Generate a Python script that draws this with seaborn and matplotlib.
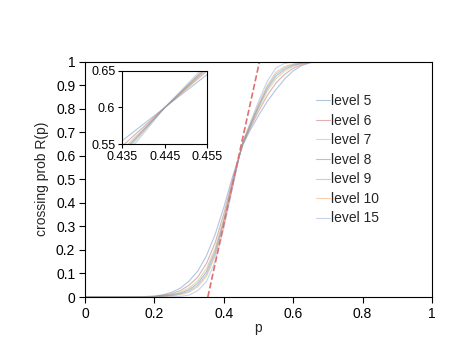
import numpy as np
import pandas as pd
import matplotlib
matplotlib.use('Agg')
import matplotlib.pyplot as plt
from matplotlib.lines import Line2D
import seaborn as sns

sns.set_style('white')
plt.rcParams['font.family'] = ['Liberation Sans', 'DejaVu Sans']

# ---- data ----
p = [0, 0.1, 0.15, 0.2, 0.225, 0.25, 0.275, 0.3, 0.325, 0.35, 0.375, 0.4, 0.425,
     0.445, 0.455, 0.475, 0.5, 0.525, 0.55, 0.575, 0.6, 0.625, 0.65, 0.7, 0.8, 1.0]

level5 = [0, 0, 0.0005, 0.004, 0.01, 0.02, 0.038, 0.068, 0.11, 0.175, 0.265, 0.38, 0.51,
          0.60, 0.645, 0.705, 0.77, 0.83, 0.88, 0.925, 0.96, 0.983, 0.995, 1, 1, 1]
level6 = [0, 0, 0.0004, 0.0028, 0.0071, 0.0143, 0.0275, 0.05, 0.085, 0.142, 0.23, 0.353, 0.495,
          0.60, 0.65, 0.714, 0.788, 0.855, 0.908, 0.945, 0.971, 0.988, 0.9965, 1, 1, 1]
level7 = [0, 0, 0.0003, 0.002, 0.005, 0.0105, 0.0205, 0.038, 0.0685, 0.12, 0.2075, 0.335, 0.485,
          0.60, 0.6525, 0.72, 0.80, 0.8725, 0.926, 0.9585, 0.979, 0.9915, 0.9975, 1, 1, 1]
level8 = [0, 0, 0.0002, 0.0015, 0.004, 0.0082, 0.0163, 0.0308, 0.0585, 0.107, 0.194, 0.324, 0.479,
          0.60, 0.654, 0.724, 0.807, 0.883, 0.937, 0.9665, 0.9836, 0.9935, 0.998, 1, 1, 1]
level9 = [0, 0, 0.00015, 0.0011, 0.003, 0.0063, 0.0128, 0.0248, 0.05, 0.0958, 0.182, 0.315, 0.474,
          0.60, 0.656, 0.727, 0.813, 0.891, 0.946, 0.973, 0.987, 0.995, 0.9986, 1, 1, 1]
level10 = [0, 0, 0.0001, 0.0008, 0.0022, 0.0048, 0.01, 0.02, 0.0436, 0.087, 0.173, 0.308, 0.47,
           0.60, 0.657, 0.729, 0.818, 0.898, 0.954, 0.979, 0.99, 0.9966, 0.999, 1, 1, 1]
level15 = [0, 0, 0, 0, 0.0003, 0.001, 0.003, 0.008, 0.027, 0.065, 0.15, 0.29, 0.46,
           0.60, 0.66, 0.735, 0.83, 0.915, 0.972, 0.992, 0.998, 1, 1, 1, 1, 1]

levels = ['level 5', 'level 6', 'level 7', 'level 8', 'level 9', 'level 10', 'level 15']
series = [level5, level6, level7, level8, level9, level10, level15]

# dashed tangent line through the crossing point
tangent_p = [0.354, 0.503]
tangent_R = [0.0, 1.0]

colors = ['#4F81BD', '#C0504D', '#9BBB59', '#8064A2', '#4BACC6', '#F79646', '#7F9FE0']
ALPHA = 0.45

rows = []
for name, vals in zip(levels, series):
    for x, y in zip(p, vals):
        rows.append({'p': x, 'R': y, 'level': name})
df = pd.DataFrame(rows)

fig = plt.figure(figsize=(4.71, 3.64), dpi=100)
ax = fig.add_axes([0.1805, 0.184, 0.7365, 0.647])

sns.lineplot(data=df, x='p', y='R', hue='level', hue_order=levels, palette=colors,
             linewidth=0.8, alpha=ALPHA, ax=ax, estimator=None, sort=False, legend=False)
ax.plot(tangent_p, tangent_R, color='#E07070', linestyle='--', linewidth=1.2)

ax.set_xlim(0, 1)
ax.set_ylim(0, 1)
ax.set_xticks([0, 0.2, 0.4, 0.6, 0.8, 1])
ax.set_xticklabels(['0', '0.2', '0.4', '0.6', '0.8', '1'])
ax.set_yticks(np.arange(0, 1.01, 0.1))
ax.set_yticklabels(['0', '0.1', '0.2', '0.3', '0.4', '0.5', '0.6', '0.7', '0.8', '0.9', '1'])
ax.tick_params(direction='out', length=4, width=0.8, labelsize=10, colors='black',
               bottom=True, left=True, pad=3)
for s in ax.spines.values():
    s.set_color('black')
    s.set_linewidth(0.8)
ax.set_xlabel('p', fontsize=10, labelpad=0)
ax.set_ylabel('crossing prob R(p)', fontsize=10, labelpad=5)

handles = [Line2D([], [], color=c, lw=0.8, alpha=ALPHA) for c in colors]
ax.legend(handles, levels, loc='upper left', bbox_to_anchor=(0.65, 0.885), frameon=False,
          fontsize=10, handlelength=1.0, handletextpad=0.05, labelspacing=0.4,
          borderaxespad=0)

# inset
axin = fig.add_axes([0.2597, 0.6036, 0.1805, 0.2022])
sns.lineplot(data=df, x='p', y='R', hue='level', hue_order=levels, palette=colors,
             linewidth=0.8, alpha=ALPHA, ax=axin, estimator=None, sort=False, legend=False)
axin.set_xlim(0.435, 0.455)
axin.set_ylim(0.55, 0.65)
axin.set_xticks([0.435, 0.445, 0.455])
axin.set_xticklabels(['0.435', '0.445', '0.455'])
axin.set_yticks([0.55, 0.6, 0.65])
axin.set_yticklabels(['0.55', '0.6', '0.65'])
axin.tick_params(direction='out', length=3, width=0.8, labelsize=9, colors='black',
                 bottom=True, left=True, pad=2)
axin.set_xlabel('')
axin.set_ylabel('')
for s in axin.spines.values():
    s.set_color('black')
    s.set_linewidth(0.8)

fig.savefig('out.png', dpi=100)
